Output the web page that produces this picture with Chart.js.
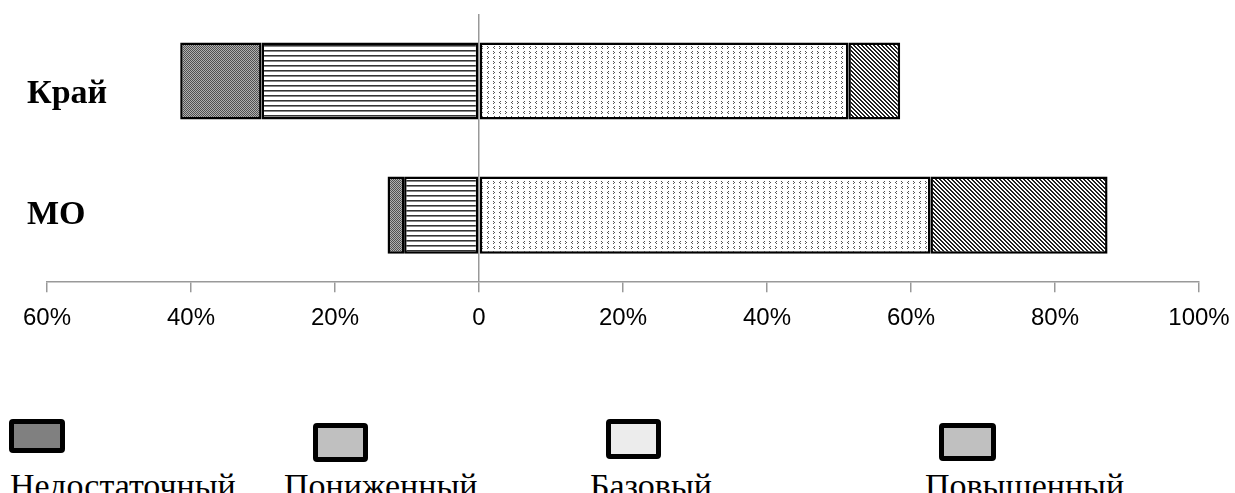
<!DOCTYPE html>
<html>
<head>
<meta charset="utf-8">
<script src="https://cdn.jsdelivr.net/npm/chart.js@4"></script>
<style>
  html, body { margin: 0; padding: 0; background: #fff; }
  body { width: 1235px; height: 493px; position: relative; overflow: hidden; }
  #chart-wrap { position: absolute; left: 0; top: 0; width: 1235px; height: 345px; }
  .legend-box { position: absolute; box-sizing: border-box; border: 5px solid #000; border-radius: 4px; }
  .legend-text { position: absolute; font-family: 'Liberation Serif', 'Times New Roman', serif; font-size: 34px; line-height: 1; color: #000; white-space: nowrap; }
</style>
</head>
<body>
<div id="chart-wrap"><canvas id="levels-chart"></canvas></div>
<div id="legend"></div>
<script>
const categories = ['Край', 'МО'];
const levels = ['Недостаточный', 'Пониженный', 'Базовый', 'Повышенный'];
const insufficient = [11.3, 2.3];
const lowered = [30.2, 10.4];
const basic = [51.3, 62.7];
const advanced = [7.2, 24.6];
const xTicks = [-60, -40, -20, 0, 20, 40, 60, 80, 100];

// legend layout (left, top, width, height of swatch; left of caption)
const legendLayout = [
  { box: [9, 419, 56, 34], fill: '#808080', text: 10 },
  { box: [313, 423, 55, 39], fill: '#c0c0c0', text: 284 },
  { box: [606, 419, 55, 40], fill: '#ececec', text: 590 },
  { box: [939, 423, 57, 38], fill: '#c0c0c0', text: 925 }
];

function makePattern(w, h, draw) {
  const c = document.createElement('canvas');
  c.width = w; c.height = h;
  const g = c.getContext('2d');
  g.fillStyle = '#fff';
  g.fillRect(0, 0, w, h);
  draw(g);
  return document.createElement('canvas').getContext('2d').createPattern(c, 'repeat');
}

const patDark = makePattern(2, 2, g => {
  g.fillStyle = '#b0b0b0'; g.fillRect(0, 0, 2, 2);
  g.fillStyle = '#505050'; g.fillRect(0, 0, 1, 1); g.fillRect(1, 1, 1, 1);
});
const patLines = makePattern(6, 5, g => {
  g.fillStyle = '#333'; g.fillRect(0, 0, 6, 1);
  g.fillStyle = '#888'; g.fillRect(0, 1, 6, 1);
});
const patDots = makePattern(12, 10, g => {
  g.fillStyle = '#555';
  [[1,1],[2,2],[1,3],[8,1],[7,2],[8,3],[7,6],[8,7],[7,8],[2,6],[1,7],[2,8]]
    .forEach(([x, y]) => g.fillRect(x, y, 1, 1));
});
const patDiag = makePattern(4, 4, g => {
  g.fillStyle = '#222';
  for (let i = 0; i < 4; i++) { g.fillRect(i, i, 1, 1); g.fillRect((i + 1) % 4, i, 1, 1); }
});

const barStyle = { borderColor: '#000', borderWidth: 2.5, borderSkipped: false, barPercentage: 0.575, categoryPercentage: 1 };

// negative side stacks outward from zero, so "lowered" goes first
const datasets = [
  { label: levels[1], data: lowered.map(v => -v), backgroundColor: patLines, ...barStyle },
  { label: levels[0], data: insufficient.map(v => -v), backgroundColor: patDark, ...barStyle },
  { label: levels[2], data: basic, backgroundColor: patDots, ...barStyle },
  { label: levels[3], data: advanced, backgroundColor: patDiag, ...barStyle }
];

new Chart(document.getElementById('levels-chart'), {
  type: 'bar',
  data: { labels: categories, datasets },
  options: {
    indexAxis: 'y',
    responsive: true,
    maintainAspectRatio: false,
    animation: false,
    layout: { padding: { left: 27, right: 36, top: 14, bottom: 0 } },
    plugins: { legend: { display: false }, tooltip: { enabled: false } },
    scales: {
      x: {
        stacked: true,
        min: xTicks[0],
        max: xTicks[xTicks.length - 1],
        afterBuildTicks: s => { s.ticks = xTicks.map(v => ({ value: v })); },
        afterFit: s => { s.paddingLeft = 0; s.paddingRight = 0; },
        ticks: {
          color: '#000',
          padding: 12,
          font: { family: "'Liberation Sans', Arial, sans-serif", size: 24 },
          callback: v => v === 0 ? '0' : Math.abs(v) + '%'
        },
        grid: {
          color: c => c.tick && c.tick.value === 0 ? '#999' : 'transparent',
          tickColor: '#999',
          tickLength: 10,
          lineWidth: 1.5
        },
        border: { display: true, color: '#999', width: 1.5 }
      },
      y: {
        stacked: true,
        afterFit: s => { s.width = 20; s.paddingTop = 0; s.paddingBottom = 0; },
        grid: { display: false, drawTicks: false },
        border: { display: false },
        ticks: {
          color: '#000',
          mirror: true,
          crossAlign: 'near',
          padding: -20,
          font: { family: "'Liberation Serif', 'Times New Roman', serif", size: 34, weight: 'bold', lineHeight: 0.8 },
          // the source places "Край" a little below its bar centre
          callback: (v, i) => i === 0 ? ['', categories[i]] : categories[i]
        }
      }
    }
  }
});

// legend: swatch above caption, irregular spacing like the source
const legendEl = document.getElementById('legend');
levels.forEach((name, i) => {
  const l = legendLayout[i];
  const box = document.createElement('div');
  box.className = 'legend-box';
  box.style.cssText = `left:${l.box[0]}px;top:${l.box[1]}px;width:${l.box[2]}px;height:${l.box[3]}px;background:${l.fill};`;
  legendEl.appendChild(box);
  const txt = document.createElement('div');
  txt.className = 'legend-text';
  txt.style.cssText = `left:${l.text}px;top:469px;`;
  txt.textContent = name;
  legendEl.appendChild(txt);
});
</script>
</body>
</html>
